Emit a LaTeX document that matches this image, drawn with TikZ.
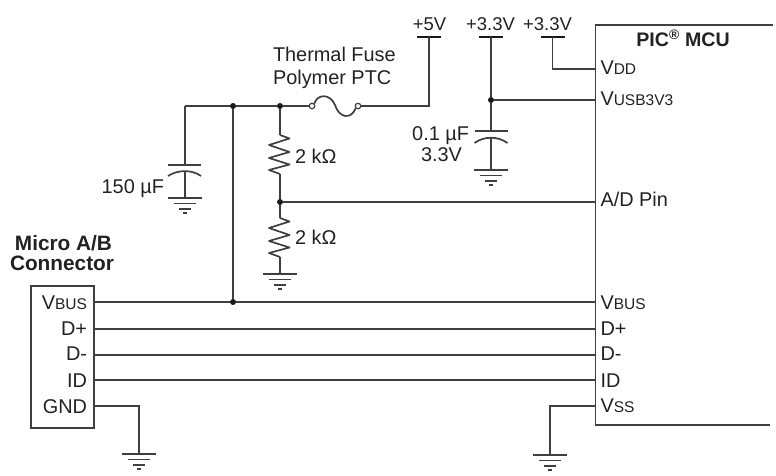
\documentclass[tikz,border=0pt]{standalone}
\usepackage{fontspec}
\setmainfont{Liberation Sans}
\definecolor{wirecol}{HTML}{3F3F3F}
\definecolor{textcol}{HTML}{222222}
\newcommand{\smc}[2]{#1{\fontsize{15.5}{17}\selectfont #2}}
\tikzset{
  x=1pt,y=-1pt,
  wire/.style={draw=wirecol,line width=1.7pt},
  thin wire/.style={draw=wirecol,line width=1.5pt},
  lbl/.style={inner sep=0pt,outer sep=0pt,text=textcol,font=\fontsize{19.9}{22}\selectfont},
  lblr/.style={lbl,anchor=base east},
  lbll/.style={lbl,anchor=base west},
  lblc/.style={lbl,anchor=base,font=\fontsize{18.5}{22}\selectfont},
  head/.style={lbl,anchor=base,font=\fontsize{20.8}{24}\selectfont\bfseries},
  dot/.style={circle,fill=black!90,inner sep=0pt,minimum size=6pt},
  gndsym/.pic={
    \draw[thin wire] (-17,0) -- (17,0);
    \draw[thin wire] (-11,5.5) -- (11,5.5);
    \draw[thin wire] (-6,11) -- (6,11);
    \draw[thin wire] (-2,15) -- (2,15);
  },
  railbar/.pic={\draw[draw=black!90,line width=2pt] (-12,0) -- (12,0);},
  zigres/.pic={
    \draw[wire,line join=round] (0,0) -- (9.5,3.5) -- (-11,10) -- (9.5,17) -- (-11,23) -- (9.5,29.5) -- (-11,35) -- (0,39);
  }
}
\begin{document}
\begin{tikzpicture}
\useasboundingbox (0,0) rectangle (776,476);
% connector box
\node[wire,minimum width=63pt,minimum height=142pt,inner sep=0pt,anchor=north west] (conn) at (30,285) {};
% pin points on connector
\coordinate (cVbus) at (93,302);
\coordinate (cDp) at (93,329);
\coordinate (cDm) at (93,355);
\coordinate (cId) at (93,380);
\coordinate (cGnd) at (93,406);
% MCU
\coordinate (mTR) at (773,25);
\coordinate (mTL) at (595.5,25);
\coordinate (mBL) at (595.5,425);
\coordinate (mBR) at (770,425);
\draw[wire] (mTR) -- (mTL) -- (mBL) -- (mBR);
\coordinate (mVdd) at (595.5,69);
\coordinate (mUsb) at (595.5,100);
\coordinate (mAd) at (595.5,202);
\coordinate (mVbus) at (595.5,302);
\coordinate (mDp) at (595.5,329);
\coordinate (mDm) at (595.5,355);
\coordinate (mId) at (595.5,380);
\coordinate (mVss) at (595.5,406);
% rails
\coordinate (r5) at (429,37);
\coordinate (r33a) at (491,37);
\coordinate (r33b) at (552.5,37);
\pic at (r5) {railbar};
\pic at (r33a) {railbar};
\pic at (r33b) {railbar};
% junctions
\node[dot] (jC) at (233,106) {};
\node[dot] (jR) at (280,106) {};
\node[dot] (jM) at (280,202) {};
\node[dot] (jB) at (233,302) {};
\node[dot] (jU) at (491,100) {};
% bus wires
\draw[wire] (cVbus) -- (jB) -- (mVbus);
\draw[wire] (cDp) -- (mDp);
\draw[wire] (cDm) -- (mDm);
\draw[wire] (cId) -- (mId);
\draw[wire] (jC) -- (jB);
% fuse
\node[circle,draw=wirecol,line width=1.2pt,fill=white,inner sep=0pt,minimum size=5.5pt] (fL) at (312,106) {};
\node[circle,draw=wirecol,line width=1.2pt,fill=white,inner sep=0pt,minimum size=5.5pt] (fR) at (358,106) {};
\draw[wire] (fL.north east) .. controls (317,94) and (330,93) .. (335,105)
   .. controls (339,118) and (351,120) .. (fR.south west);
\coordinate (top5) at (429,106);
\draw[wire] (fR) -- (top5) -- (r5);
% main line
\coordinate (c1top) at (185,106);
\draw[wire] (jR) -- (fL);
\draw[wire] (c1top) -- (jC) -- (jR);
% 150uF cap
\coordinate (c1a) at (185,165);
\coordinate (c1b) at (185,171.5);
\coordinate (c1g) at (185,198);
\draw[wire] (c1top) -- (c1a);
\draw[wire] (168,165) -- (201,165);
\draw[wire] (168,176) .. controls (178,169.5) and (192,169.5) .. (201,176);
\draw[wire] (c1b) -- (c1g);
\pic at (c1g) {gndsym};
% resistors
\coordinate (r1a) at (280,135);
\coordinate (r1b) at (280,174);
\coordinate (r2a) at (280,218);
\coordinate (r2b) at (280,257);
\coordinate (g2) at (280,274);
\draw[wire] (jR) -- (r1a);
\pic at (r1a) {zigres};
\draw[wire] (r1b) -- (jM) -- (r2a);
\pic at (r2a) {zigres};
\draw[wire] (r2b) -- (g2);
\pic at (g2) {gndsym};
\draw[wire] (jM) -- (mAd);
% 0.1uF cap
\coordinate (c2a) at (491,131);
\coordinate (c2b) at (491,138);
\coordinate (c2g) at (491,170);
\draw[wire] (r33a) -- (jU) -- (c2a);
\draw[wire] (474.5,131) -- (507.5,131);
\draw[wire] (474.5,143) .. controls (484,136) and (498,136) .. (507.5,143);
\draw[wire] (c2b) -- (c2g);
\pic at (c2g) {gndsym};
\draw[wire] (jU) -- (mUsb);
% VDD
\coordinate (vddc) at (552.5,69);
\draw[wire] (r33b) -- (vddc) -- (mVdd);
% grounds
\coordinate (gA) at (139,454);
\coordinate (gAc) at (139,406);
\draw[wire] (cGnd) -- (gAc) -- (gA);
\pic at (gA) {gndsym};
\coordinate (gB) at (550,455);
\coordinate (gBc) at (550,406);
\draw[wire] (mVss) -- (gBc) -- (gB);
\pic at (gB) {gndsym};
% rail labels
\node[lblc] (t5) at (429.5,31) {+5V};
\node[lblc] (t33a) at (490.5,31) {+3.3V};
\node[lblc] (t33b) at (547.5,31) {+3.3V};
\node[lbll] (tf1) at (273,62) {Thermal Fuse};
\node[lbll] (tf2) at (273,85) {Polymer PTC};
\node[lbll] (r1t) at (295,163) {2 kΩ};
\node[lbll] (r2t) at (295,244) {2 kΩ};
\node[lblr] (c2t1) at (469,141) {0.1 µF};
\node[lblr] (c2t2) at (462,161) {3.3V};
\node[lblr] (c1t) at (164,193) {150 µF};
\node[head] (h1) at (63.5,250) {Micro A/B};
\node[head] (h2) at (62,270) {Connector};
\node[head,font=\fontsize{19.6}{24}\selectfont\bfseries] (h3) at (683,47) {PIC\textsuperscript{®} MCU};
% connector labels
\node[lblr] (l1) at (87,309) {\smc{V}{BUS}};
\node[lblr] (l2) at (87,335) {D+};
\node[lblr] (l3) at (87,360) {D-};
\node[lblr] (l4) at (87,387) {ID};
\node[lblr] (l5) at (87,413) {GND};
% MCU labels
\node[lbll] (p1) at (600.5,75) {\smc{V}{DD}};
\node[lbll] (p2) at (600.5,106) {\smc{V}{USB3V3}};
\node[lbll] (p3) at (600.5,206) {A/D Pin};
\node[lbll] (p4) at (600.5,309) {\smc{V}{BUS}};
\node[lbll] (p5) at (600.5,335) {D+};
\node[lbll] (p6) at (600.5,360) {D-};
\node[lbll] (p7) at (600.5,387) {ID};
\node[lbll] (p8) at (600.5,412) {\smc{V}{SS}};
\end{tikzpicture}
\end{document}
